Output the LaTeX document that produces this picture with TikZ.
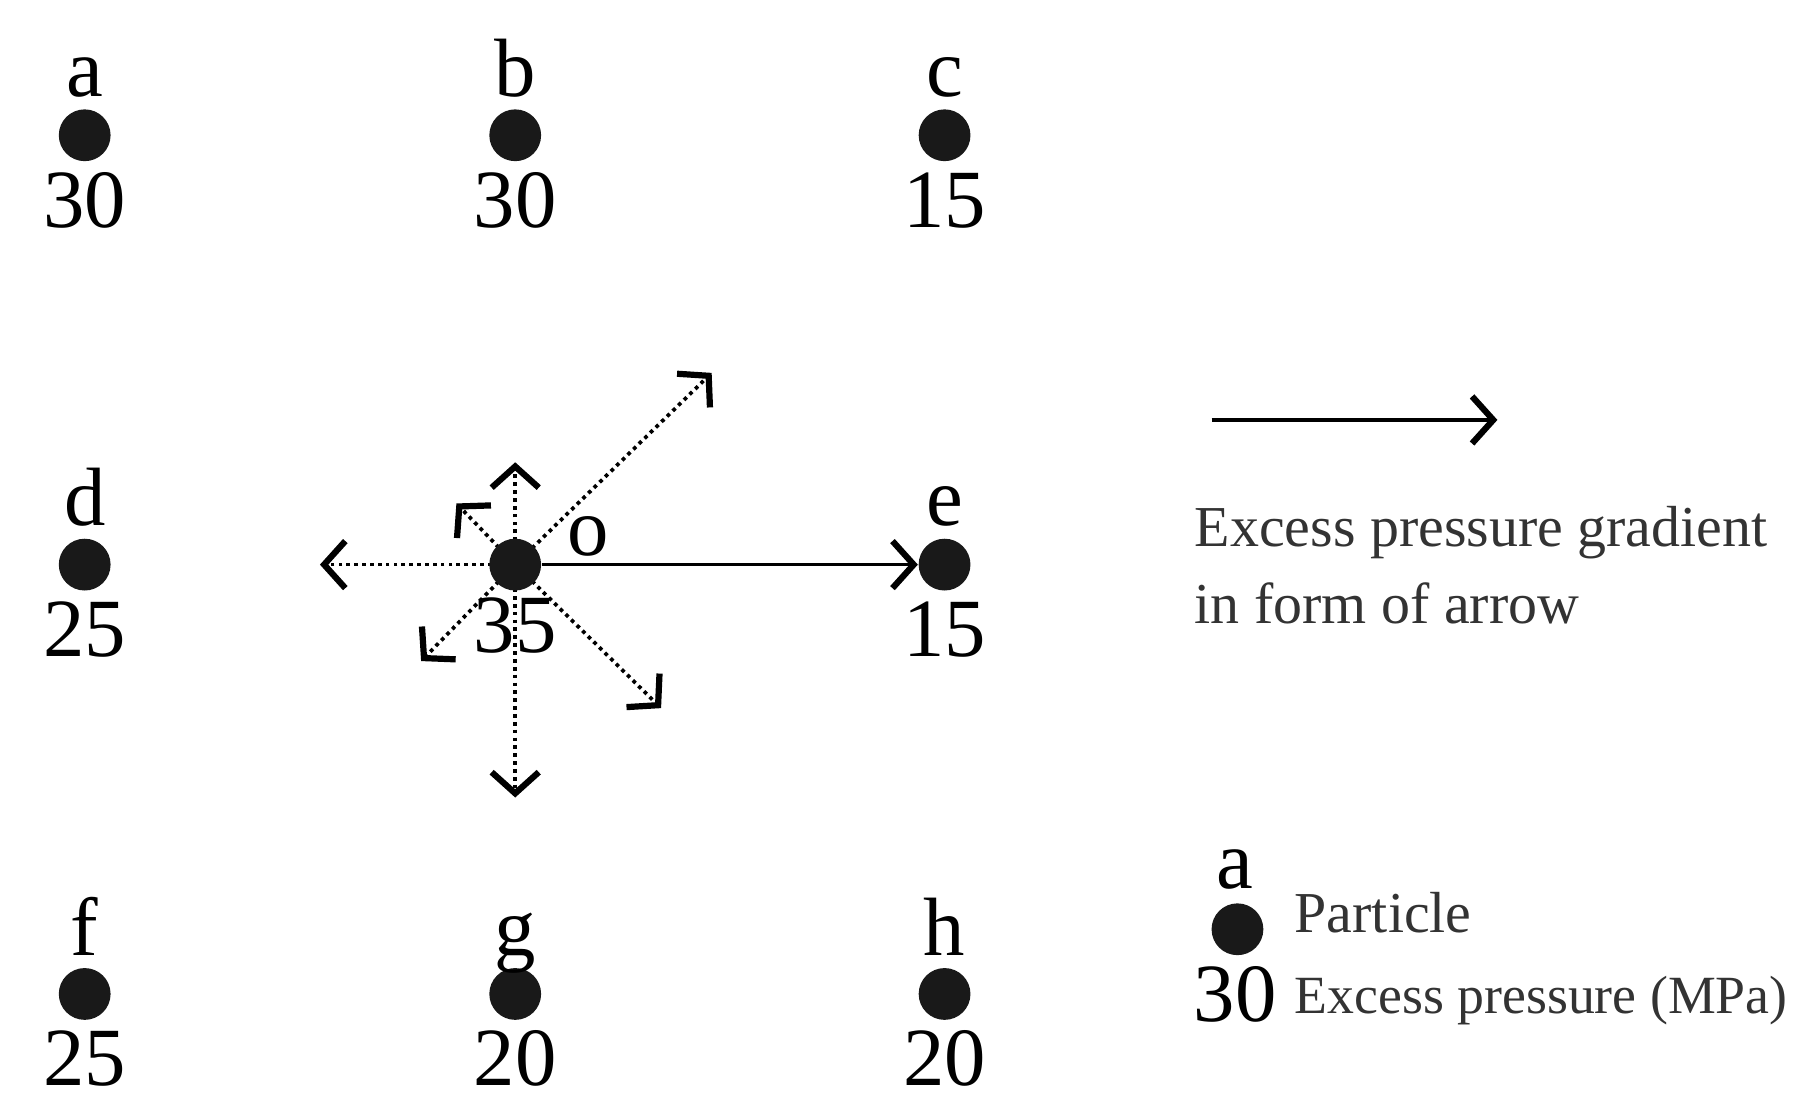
\documentclass[tikz,border=0pt]{standalone}
\usepackage{fontspec}
\setmainfont{Liberation Serif}
\usetikzlibrary{arrows.meta}
\begin{document}
\begin{tikzpicture}[x=0.01cm,y=-0.01cm,
  dot/.style={circle,fill=black!90,inner sep=0pt,minimum size=0.44cm},
  lbl/.style={font=\fontsize{20}{22}\selectfont,inner sep=0pt},
  small/.style={font=\fontsize{14}{16}\selectfont,inner sep=0pt,anchor=base west,text=black!80},
  grad/.style={line width=0.9pt,-{Straight Barb[length=0.18cm,width=0.4cm,line width=1.5pt]}},
  dgrad/.style={grad,densely dotted}]
\useasboundingbox[fill=white] (0,0) rectangle (1543,943);
\coordinate (oc) at (438,480);
\coordinate (p1) at (272,480);
\coordinate (p2) at (438,393);
\coordinate (p3) at (388,428);
\coordinate (p4) at (605,317);
\coordinate (p5) at (358,562);
\coordinate (p6) at (562,602);
\coordinate (p7) at (438,678);
\foreach \p in {p1,p2,p3,p4,p5,p6,p7} \draw[dgrad] (oc) -- (\p);
\foreach \n/\x/\y/\v in {a/72/115/30,b/438/115/30,c/803/115/15,d/72/480/25,e/803/480/15,f/72/845/25,g/438/845/20,h/803/845/20}{
  \node[dot] (\n) at (\x,\y) {};
  \node[lbl,anchor=base] (\n l) at (\x,\y-33) {\n};
  \node[lbl,anchor=base] (\n v) at (\x,\y+78) {\v};
}
\node[dot] (o) at (oc) {};
\node[lbl,anchor=base] (ol) at (500,472) {o};
\node[lbl,anchor=base] (ov) at (438,555) {35};
\draw[grad] (o.east) -- (e.west);
\coordinate (L1) at (1030,357);
\coordinate (L2) at (1273,357);
\draw[grad] (L1) -- (L2);
\node[small] (t1) at (1015,465) {Excess pressure gradient};
\node[small] (t2) at (1015,530) {in form of arrow};
\node[lbl,anchor=base] (la) at (1050,755) {a};
\node[dot] (ld) at (1052,790) {};
\node[lbl,anchor=base] (l30) at (1050,868) {30};
\node[small] (t3) at (1100,793) {Particle};
\node[small,font=\fontsize{13}{15}\selectfont] (t4) at (1100,862) {Excess pressure (MPa)};
\end{tikzpicture}
\end{document}
